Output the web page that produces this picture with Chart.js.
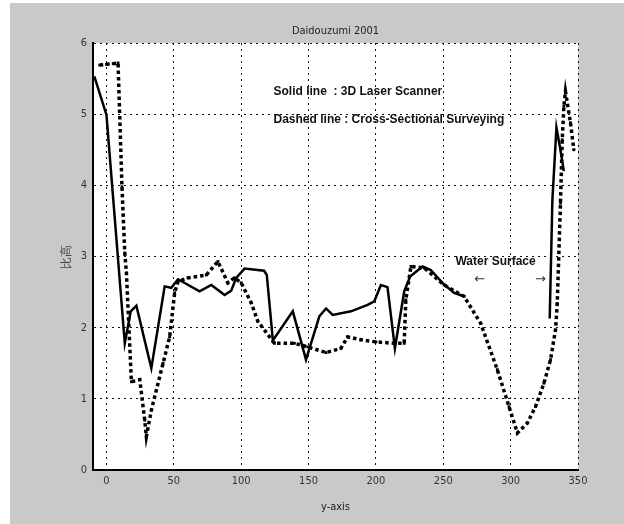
<!DOCTYPE html>
<html>

<head>
  <title>Daidouzumi 2001</title>
  <script src="https://cdn.jsdelivr.net/npm/chart.js"></script>
  <style>
    html, body {
      margin: 0;
      padding: 0;
      background: #fff;
    }

    .chart-container {
      width: 624px;
      height: 524px;
    }
  </style>
</head>

<body>
  <div class="chart-container">
    <canvas id="chart"></canvas>
  </div>
  <script>
    // x ticks / y ticks
    const xTicks = [0, 50, 100, 150, 200, 250, 300, 350];
    const yTicks = [0, 1, 2, 3, 4, 5, 6];

    // Solid line : 3D Laser Scanner (left part, then the short part near the right bank)
    const solidX = [-9, 0, 13.6, 18, 22.2, 33.3, 43.2, 48.1, 53.1, 69.1, 77.8, 87.7, 92.6, 96.3, 102.5, 117, 119, 123.5,
      138.3, 148.1, 158, 163, 167.9, 181.5, 193.8, 198.8, 203.7, 208.6, 214.1, 221, 225.4, 234.6, 240.7, 249.4, 258, 265.4,
      null, 329, 331, 334, 336.5, 339.5];
    const solidY = [5.53, 4.99, 1.78, 2.23, 2.31, 1.43, 2.58, 2.56, 2.68, 2.51, 2.6, 2.46, 2.52, 2.7, 2.83, 2.8, 2.74, 1.82,
      2.23, 1.55, 2.16, 2.27, 2.18, 2.23, 2.32, 2.37, 2.6, 2.57, 1.71, 2.51, 2.72, 2.86, 2.81, 2.63, 2.49, 2.44,
      null, 2.13, 3.8, 4.81, 4.55, 4.2];

    // Dashed line : Cross-Sectional Surveying
    const dashX = [-5, 0, 5, 8.6, 11.5, 13.6, 14.8, 18.5, 24.7, 28.4, 29.6, 33.3, 42, 46.9, 50.6, 53.1, 60.5, 74.1, 82.7,
      90.1, 95, 100, 107.4, 112.3, 124.7, 139.5, 149.4, 163, 174, 179, 188.9, 200, 213.6, 221, 222.2, 226, 235.8, 250.6,
      265.4, 277.8, 290.1, 298.8, 305, 312.4, 318.5, 324.7, 329.6, 333.3, 334.6, 337, 338.3, 339.5, 340.7, 344.4, 346.9];
    const dashY = [5.69, 5.7, 5.71, 5.72, 3.98, 3.05, 2.77, 1.24, 1.27, 0.7, 0.47, 0.84, 1.5, 1.87, 2.49, 2.65, 2.7, 2.74, 2.93,
      2.63, 2.7, 2.63, 2.35, 2.09, 1.78, 1.78, 1.73, 1.65, 1.71, 1.87, 1.83, 1.8, 1.78, 1.78, 2.39, 2.86, 2.84, 2.6,
      2.44, 2.06, 1.41, 0.89, 0.52, 0.66, 0.89, 1.22, 1.55, 1.97, 2.34, 3.75, 4.64, 5.11, 5.32, 4.88, 4.5];

    // text put on the plot, in data coordinates
    const notes = [
      { text: 'Solid line  : 3D Laser Scanner', x: 124, y: 5.31 },
      { text: 'Dashed line : Cross-Sectional Surveying', x: 124, y: 4.92 },
      { text: 'Water Surface', x: 259, y: 2.93 }
    ];
    const arrows = [
      { text: '\u2190', x: 273, y: 2.67 },
      { text: '\u2192', x: 318, y: 2.67 }
    ];

    const FONT = "'Liberation Sans Narrow', 'DejaVu Sans Condensed', 'Liberation Sans', sans-serif";

    function pts(xs, ys) {
      return xs.map((x, i) => (x === null ? { x: NaN, y: NaN } : { x: x, y: ys[i] }));
    }

    // grey figure background, white axes box, titles and the notes
    const figurePlugin = {
      id: 'figure',
      beforeDraw(chart) {
        const ctx = chart.ctx;
        const a = chart.chartArea;
        ctx.save();
        ctx.fillStyle = '#fff';
        ctx.fillRect(0, 0, chart.width, chart.height);
        ctx.fillStyle = '#c9c9c9';
        ctx.fillRect(10, 3, chart.width - 10, chart.height - 3);
        ctx.fillStyle = '#fff';
        ctx.fillRect(a.left, a.top, a.right - a.left, a.bottom - a.top);
        ctx.restore();
      },
      afterDraw(chart) {
        const ctx = chart.ctx;
        const a = chart.chartArea;
        const xs = chart.scales.x;
        const ys = chart.scales.y;
        const cx = (a.left + a.right) / 2;
        ctx.save();
        ctx.fillStyle = '#222';
        ctx.textAlign = 'center';
        ctx.textBaseline = 'middle';
        ctx.font = '11px ' + FONT;
        ctx.fillText('Daidouzumi 2001', cx, 31);
        ctx.fillText('y-axis', cx, 507);
        ctx.save();
        ctx.translate(67, 257);
        ctx.rotate(-Math.PI / 2);
        ctx.fillStyle = '#444';
        ctx.font = '12px ' + FONT;
        ctx.fillText('比高', 0, 0);
        ctx.restore();
        ctx.textAlign = 'left';
        ctx.fillStyle = '#111';
        ctx.font = "bold 12px 'Liberation Sans', Arial, sans-serif";
        notes.forEach(n => {
          ctx.fillText(n.text, xs.getPixelForValue(n.x), ys.getPixelForValue(n.y));
        });
        ctx.fillStyle = '#333';
        ctx.font = "13px 'DejaVu Sans', sans-serif";
        arrows.forEach(n => {
          ctx.fillText(n.text, xs.getPixelForValue(n.x), ys.getPixelForValue(n.y));
        });
        ctx.restore();
      }
    };

    const gridStyle = {
      color: '#111',
      lineWidth: 1,
      drawTicks: false
    };

    const ctx = document.getElementById('chart').getContext('2d');
    new Chart(ctx, {
      type: 'scatter',
      data: {
        datasets: [{
          label: '3D Laser Scanner',
          data: pts(solidX, solidY),
          showLine: true,
          spanGaps: false,
          borderColor: '#000',
          borderWidth: 2.5,
          pointRadius: 0,
          tension: 0
        }, {
          label: 'Cross-Sectional Surveying',
          data: pts(dashX, dashY),
          showLine: true,
          borderColor: '#000',
          borderWidth: 3.5,
          borderDash: [3.5, 3],
          borderCapStyle: 'butt',
          pointStyle: 'rect',
          pointRadius: 2,
          pointBackgroundColor: '#000',
          pointBorderWidth: 0,
          tension: 0
        }]
      },
      options: {
        responsive: true,
        maintainAspectRatio: false,
        animation: false,
        layout: {
          padding: { left: 0, top: 43, right: 46, bottom: 0 }
        },
        plugins: {
          legend: { display: false },
          tooltip: { enabled: false }
        },
        scales: {
          x: {
            type: 'linear',
            min: -10,
            max: 350,
            afterBuildTicks: scale => { scale.ticks = xTicks.map(v => ({ value: v })); },
            afterFit: scale => { scale.height = 54; },
            ticks: {
              padding: 5,
              color: '#333',
              font: { family: FONT, size: 11 }
            },
            grid: gridStyle,
            border: { display: true, color: '#000', width: 2, dash: [2, 4] }
          },
          y: {
            type: 'linear',
            min: 0,
            max: 6,
            afterBuildTicks: scale => { scale.ticks = yTicks.map(v => ({ value: v })); },
            afterFit: scale => { scale.width = 93; },
            ticks: {
              padding: 6,
              color: '#333',
              font: { family: FONT, size: 11 }
            },
            grid: gridStyle,
            border: { display: true, color: '#000', width: 2, dash: [2, 4] }
          }
        }
      },
      plugins: [figurePlugin]
    });
  </script>
</body>

</html>
